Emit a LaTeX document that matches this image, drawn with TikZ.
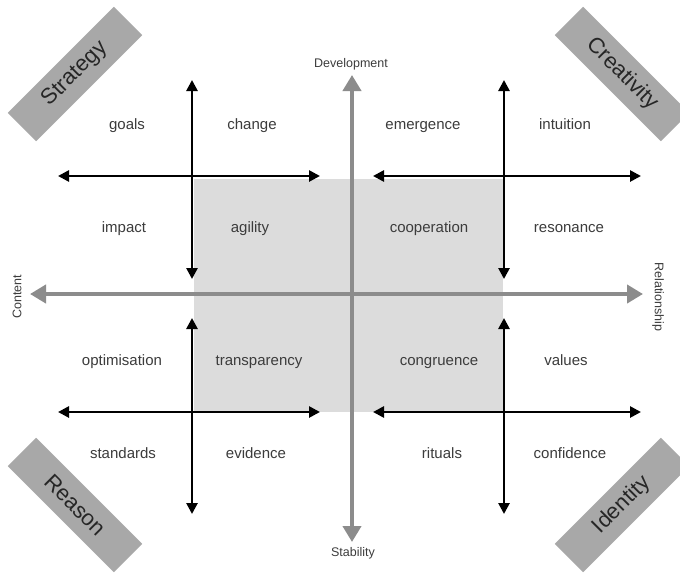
\documentclass[tikz,border=0pt]{standalone}
\usepackage{fontspec}
\setmainfont{Liberation Sans}
\usetikzlibrary{arrows.meta}
\definecolor{axisgray}{HTML}{8C8C8C}
\definecolor{boxgray}{HTML}{DCDCDC}
\definecolor{taggray}{HTML}{A8A8A8}
\definecolor{txt}{HTML}{3C3C3C}
\begin{document}
\begin{tikzpicture}[x=1pt,y=-1pt,
  lbl/.style={text=txt,font=\fontsize{15}{18}\selectfont,inner sep=0pt,text height=10pt,text depth=3pt},
  axlbl/.style={text=txt,font=\fontsize{12.5}{15}\selectfont,inner sep=0pt},
  tag/.style={fill=taggray,minimum width=150pt,minimum height=40pt,font=\fontsize{22}{26}\selectfont,text=black!85,inner sep=0pt},
  blackarrow/.style={draw=black,line width=2.6pt,{Triangle[length=11pt,width=11pt]}-{Triangle[length=11pt,width=11pt]}},
  grayarrow/.style={draw=axisgray,line width=4.5pt,{Triangle[length=16pt,width=18pt]}-{Triangle[length=16pt,width=18pt]}}
]
\clip (0,0) rectangle (680,574);
\fill[white] (0,0) rectangle (680,574);
% central square
\fill[boxgray] (194,179) rectangle (503,412);
% corner tags
\node[tag,rotate=45] (strategy) at (75,74) {Strategy};
\node[tag,rotate=-45] (creativity) at (622,74) {Creativity};
\node[tag,rotate=-45] (reason) at (75,505) {Reason};
\node[tag,rotate=45] (identity) at (622,505) {Identity};
% coordinates
\coordinate (vt) at (352,75);
\coordinate (vb) at (352,542);
\coordinate (hl) at (30,294);
\coordinate (hr) at (643,294);
\coordinate (lv1a) at (192,80);  \coordinate (lv1b) at (192,279);
\coordinate (lv2a) at (192,318); \coordinate (lv2b) at (192,514);
\coordinate (rv1a) at (504,80);  \coordinate (rv1b) at (504,279);
\coordinate (rv2a) at (504,318); \coordinate (rv2b) at (504,514);
\coordinate (lh1a) at (58,176);  \coordinate (lh1b) at (320,176);
\coordinate (lh2a) at (58,412);  \coordinate (lh2b) at (320,412);
\coordinate (rh1a) at (373,176); \coordinate (rh1b) at (641,176);
\coordinate (rh2a) at (373,412); \coordinate (rh2b) at (641,412);
% black arrows
\draw[blackarrow] (lv1a) -- (lv1b);
\draw[blackarrow] (lv2a) -- (lv2b);
\draw[blackarrow] (rv1a) -- (rv1b);
\draw[blackarrow] (rv2a) -- (rv2b);
\draw[blackarrow] (lh1a) -- (lh1b);
\draw[blackarrow] (lh2a) -- (lh2b);
\draw[blackarrow] (rh1a) -- (rh1b);
\draw[blackarrow] (rh2a) -- (rh2b);
% gray axes
\draw[grayarrow] (hl) -- (hr);
\draw[grayarrow] (vt) -- (vb);
% axis labels
\node[axlbl] (dev) at (351,64) {Development};
\node[axlbl] (stab) at (353,553) {Stability};
\node[axlbl,rotate=90] (content) at (17,297) {Content};
\node[axlbl,rotate=-90] (relation) at (658,297) {Relationship};
% quadrant labels
\node[lbl] (goals) at (127,126) {goals};
\node[lbl] (change) at (252,126) {change};
\node[lbl] (emergence) at (423,126) {emergence};
\node[lbl] (intuition) at (565,126) {intuition};
\node[lbl] (impact) at (124,229) {impact};
\node[lbl] (agility) at (250,229) {agility};
\node[lbl] (cooperation) at (429,229) {cooperation};
\node[lbl] (resonance) at (569,229) {resonance};
\node[lbl] (optimisation) at (122,362) {optimisation};
\node[lbl] (transparency) at (259,362) {transparency};
\node[lbl] (congruence) at (439,362) {congruence};
\node[lbl] (values) at (566,362) {values};
\node[lbl] (standards) at (123,455) {standards};
\node[lbl] (evidence) at (256,455) {evidence};
\node[lbl] (rituals) at (442,455) {rituals};
\node[lbl] (confidence) at (570,455) {confidence};
\end{tikzpicture}
\end{document}
